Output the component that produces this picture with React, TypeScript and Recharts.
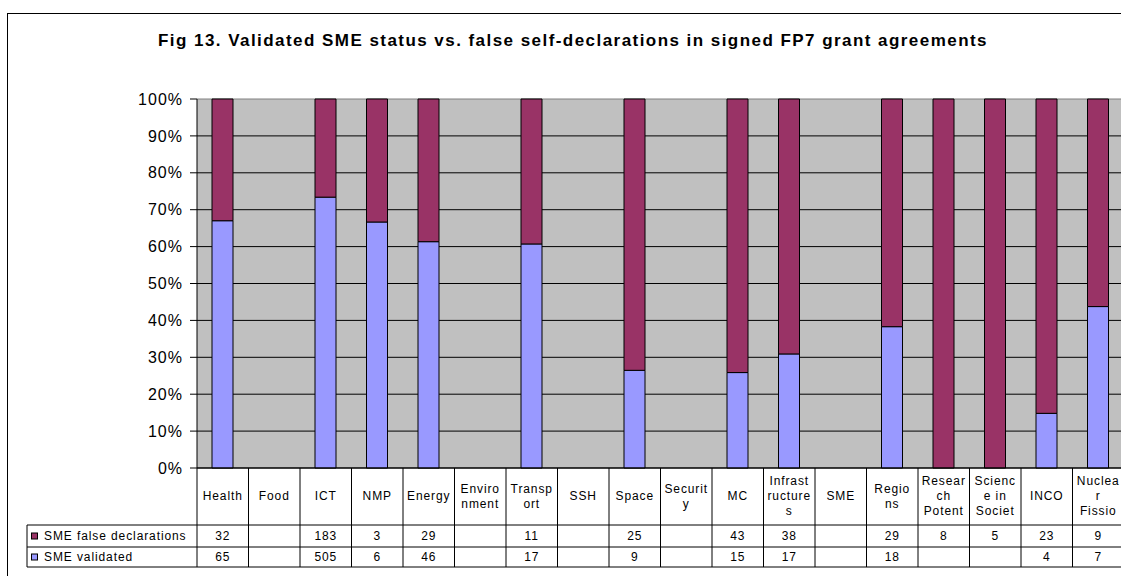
import React from 'react'
import { BarChart, Bar, XAxis, YAxis, CartesianGrid } from 'recharts'

// values (blank table cells = null)
const categories = [
  'Health', 'Food', 'ICT', 'NMP', 'Energy', 'Environment', 'Transport', 'SSH', 'Space',
  'Security', 'MC', 'Infrastructures', 'SME', 'Regions', 'Research Potent',
  'Science in Society', 'INCO', 'Nuclear Fission',
]
const categoryLines = [
  ['Health'], ['Food'], ['ICT'], ['NMP'], ['Energy'], ['Enviro', 'nment'], ['Transp', 'ort'],
  ['SSH'], ['Space'], ['Securit', 'y'], ['MC'], ['Infrast', 'ructure', 's'], ['SME'],
  ['Regio', 'ns'], ['Resear', 'ch', 'Potent'], ['Scienc', 'e in', 'Societ'], ['INCO'],
  ['Nuclea', 'r', 'Fissio'],
]
const falseDeclarations = [32, null, 183, 3, 29, null, 11, null, 25, null, 43, 38, null, 29, 8, 5, 23, 9]
const validated = [65, null, 505, 6, 46, null, 17, null, 9, null, 15, 17, null, 18, null, null, 4, 7]
const yTicks = [0, 0.1, 0.2, 0.3, 0.4, 0.5, 0.6, 0.7, 0.8, 0.9, 1]

const seriesFalse = { key: 'falseDecl', label: 'SME false declarations', color: '#993366' }
const seriesValid = { key: 'validated', label: 'SME validated', color: '#9999FF' }

const data = categories.map((name, i) => ({
  name,
  validated: validated[i],
  falseDecl: falseDeclarations[i],
}))

const FONT = "'Liberation Sans', Arial, sans-serif"
const CHART_W = 1124
const CHART_H = 576
const Y_AXIS_W = 197
const PLOT_TOP = 99
const X_AXIS_H = 99
const BAND = (CHART_W - Y_AXIS_W) / categories.length

const txt = { fontFamily: FONT, fontSize: 12, letterSpacing: 0.9, fill: '#000' }

function TableTick(props: any) {
  const { x, y, index } = props
  const lines = categoryLines[index] || []
  const left = x - BAND / 2
  const labelTop = y + 28 - ((lines.length - 1) * 15) / 2
  const fv = falseDeclarations[index]
  const vv = validated[index]
  return (
    <g>
      {index === 0 && (
        <g>
          <line x1={27} x2={CHART_W} y1={y + 57} y2={y + 57} stroke="#000" />
          <line x1={27} x2={CHART_W} y1={y + 79} y2={y + 79} stroke="#000" />
          <line x1={27} x2={CHART_W} y1={y + 99} y2={y + 99} stroke="#000" />
          <line x1={27} x2={27} y1={y + 57} y2={y + 99} stroke="#000" />
          <rect x={31.5} y={y + 65} width={6} height={6} fill={seriesFalse.color} stroke="#000" />
          <text x={44} y={y + 72} {...txt}>{seriesFalse.label}</text>
          <rect x={31.5} y={y + 86} width={6} height={6} fill={seriesValid.color} stroke="#000" />
          <text x={44} y={y + 93} {...txt}>{seriesValid.label}</text>
        </g>
      )}
      <line x1={left} x2={left} y1={y} y2={y + 99} stroke="#000" />
      {index === categories.length - 1 && (
        <line x1={left + BAND} x2={left + BAND} y1={y} y2={y + 99} stroke="#000" />
      )}
      {lines.map((l, k) => (
        <text key={k} x={x} y={labelTop + k * 15 + 4} textAnchor="middle" {...txt}>{l}</text>
      ))}
      <text x={x} y={y + 72} textAnchor="middle" {...txt}>{fv == null ? '' : fv}</text>
      <text x={x} y={y + 93} textAnchor="middle" {...txt}>{vv == null ? '' : vv}</text>
    </g>
  )
}

function GridLine(props: any) {
  const { x1, x2, y1, y2 } = props
  const top = Math.abs(y1 - PLOT_TOP) < 1
  return <line x1={x1} x2={x2} y1={y1} y2={y2} stroke={top ? '#808080' : '#000'} strokeWidth={1} />
}

export default function App() {
  return (
    <div style={{ position: 'absolute', left: 0, top: 0, width: 1121, height: 576, overflow: 'hidden', background: '#fff' }}>
      <div
        style={{
          position: 'absolute', left: 7, top: 13, width: 1300, height: 700,
          border: '1.5px solid #000', pointerEvents: 'none',
        }}
      />
      <div
        style={{
          position: 'absolute', left: 0, top: 31, width: 1146, textAlign: 'center',
          fontFamily: FONT, fontWeight: 'bold', fontSize: 17, letterSpacing: 1.45, color: '#000',
          whiteSpace: 'nowrap',
        }}
      >
        Fig 13. Validated SME status vs. false self-declarations in signed FP7 grant agreements
      </div>
      <BarChart
        width={CHART_W}
        height={CHART_H}
        data={data}
        stackOffset="expand"
        margin={{ top: PLOT_TOP, right: 0, bottom: 9, left: 0 }}
      >
        <CartesianGrid vertical={false} horizontal={<GridLine />} fill="#C0C0C0" fillOpacity={1} />
        <XAxis
          dataKey="name"
          height={X_AXIS_H}
          interval={0}
          tickSize={0}
          tickMargin={0}
          tickLine={false}
          axisLine={{ stroke: '#000' }}
          tick={<TableTick />}
        />
        <YAxis
          width={Y_AXIS_W}
          domain={[0, 1]}
          ticks={yTicks}
          tickFormatter={(v: number) => `${Math.round(v * 100)}%`}
          tickSize={7}
          tickMargin={7}
          axisLine={{ stroke: '#000' }}
          tickLine={{ stroke: '#000' }}
          tick={{ fill: '#000', fontSize: 16, fontFamily: FONT, letterSpacing: 1 }}
        />
        <Bar dataKey={seriesValid.key} stackId="a" fill={seriesValid.color} stroke="#000" strokeWidth={1} barSize={21} isAnimationActive={false} />
        <Bar dataKey={seriesFalse.key} stackId="a" fill={seriesFalse.color} stroke="#000" strokeWidth={1} barSize={21} isAnimationActive={false} />
      </BarChart>
    </div>
  )
}
